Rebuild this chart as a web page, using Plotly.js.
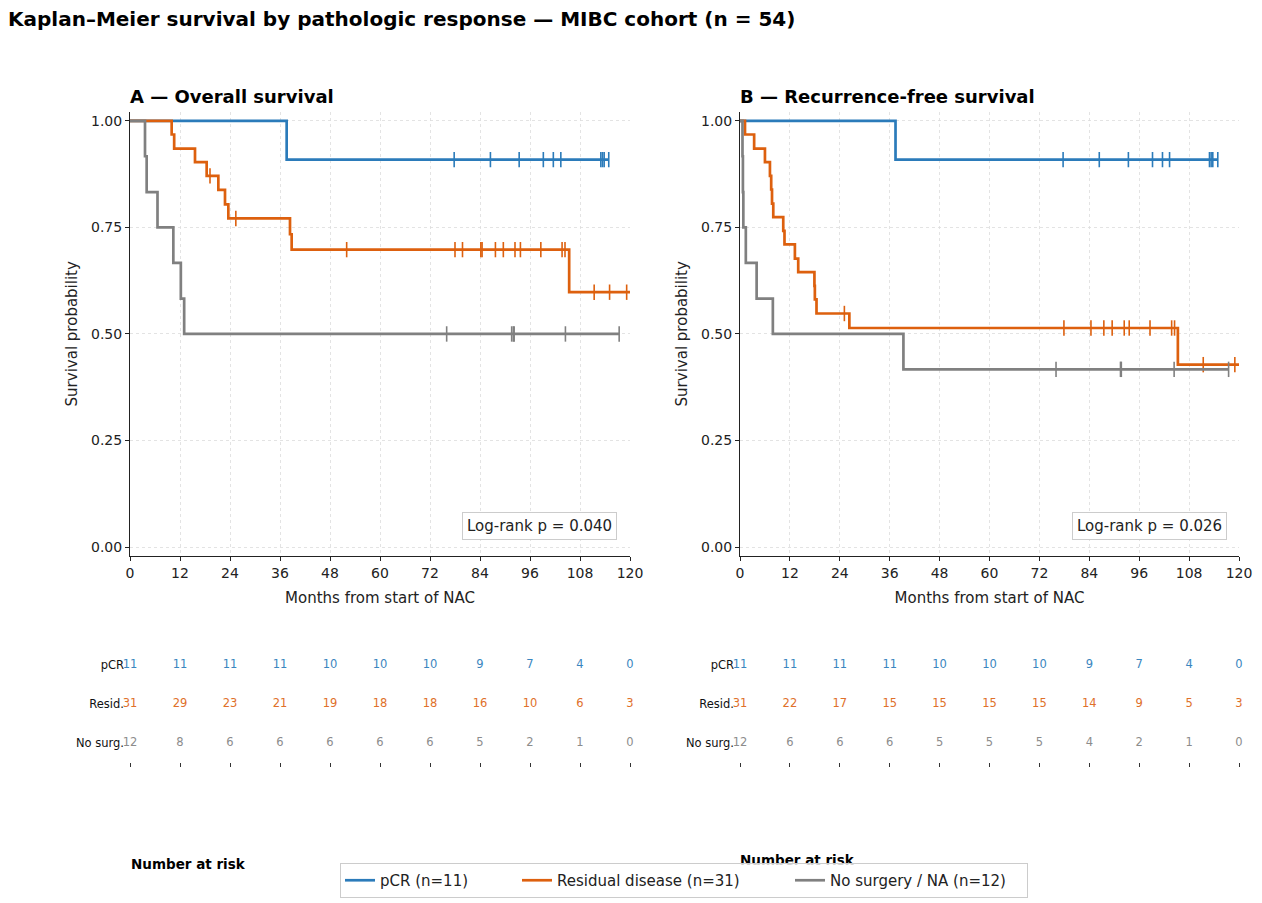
<!DOCTYPE html>
<html>
<head>
<meta charset="utf-8">
<script src="https://cdn.plot.ly/plotly-3.0.1.min.js"></script>
<style>html,body{margin:0;padding:0;background:#fff;}#chart{width:1262px;height:903px;}</style>
</head>
<body>
<div id="chart"></div>
<script>
// ---------- Data ----------
const groupNames = ["pCR (n=11)", "Residual disease (n=31)", "No surgery / NA (n=12)"];
const rowLabels = ["pCR", "Resid.", "No surg."];

// Overall survival
const os_pcr_evt_t = [37.6];
const os_pcr_evt_s = [0.909];
const os_pcr_cens = [77.8, 86.5, 93.4, 99.2, 101.6, 103.4, 113.0, 113.4, 113.8, 114.9];
const os_pcr_end = 114.9;

const os_res_evt_t = [10.0, 10.6, 15.6, 18.4, 21.2, 22.8, 23.6, 38.4, 38.8, 105.4];
const os_res_evt_s = [0.968, 0.935, 0.903, 0.871, 0.838, 0.804, 0.771, 0.734, 0.698, 0.598];
const os_res_cens = [19.2, 25.4, 52.0, 78.0, 79.8, 84.2, 84.5, 87.7, 89.6, 92.4, 93.7, 98.6, 103.7, 104.4, 111.4, 115.1, 119.2];
const os_res_end = 120;

const os_ns_evt_t = [3.6, 4.0, 6.6, 10.4, 12.2, 13.0];
const os_ns_evt_s = [0.917, 0.833, 0.750, 0.667, 0.583, 0.500];
const os_ns_cens = [76.0, 91.6, 92.0, 92.2, 104.5, 117.4];
const os_ns_end = 117.4;

// Recurrence-free survival
const rfs_pcr_evt_t = [37.4];
const rfs_pcr_evt_s = [0.909];
const rfs_pcr_cens = [77.7, 86.4, 93.4, 99.2, 101.6, 103.3, 112.9, 113.3, 113.7, 114.9];
const rfs_pcr_end = 114.9;

const rfs_res_evt_t = [1.2, 3.4, 6.0, 7.2, 7.5, 7.7, 8.0, 10.4, 10.7, 13.2, 14.0, 17.9, 18.0, 18.4, 26.3, 105.3];
const rfs_res_evt_s = [0.968, 0.935, 0.903, 0.871, 0.839, 0.806, 0.774, 0.742, 0.710, 0.677, 0.645, 0.613, 0.581, 0.548, 0.514, 0.428];
const rfs_res_cens = [25.1, 77.9, 84.4, 87.5, 89.5, 92.4, 93.6, 98.6, 103.8, 104.5, 111.4, 119.0];
const rfs_res_end = 120;

const rfs_ns_evt_t = [0.6, 0.7, 0.8, 1.4, 4.0, 7.9, 39.3];
const rfs_ns_evt_s = [0.917, 0.833, 0.750, 0.667, 0.583, 0.500, 0.417];
const rfs_ns_cens = [76.0, 91.5, 91.7, 104.4, 117.5];
const rfs_ns_end = 117.5;

// Number at risk
const risk_months = [0, 12, 24, 36, 48, 60, 72, 84, 96, 108, 120];
const os_risk_pcr = [11, 11, 11, 11, 10, 10, 10, 9, 7, 4, 0];
const os_risk_res = [31, 29, 23, 21, 19, 18, 18, 16, 10, 6, 3];
const os_risk_ns  = [12, 8, 6, 6, 6, 6, 6, 5, 2, 1, 0];
const rfs_risk_pcr = [11, 11, 11, 11, 10, 10, 10, 9, 7, 4, 0];
const rfs_risk_res = [31, 22, 17, 15, 15, 15, 15, 14, 9, 5, 3];
const rfs_risk_ns  = [12, 6, 6, 6, 5, 5, 5, 4, 2, 1, 0];

const pvals = ["Log-rank p = 0.040", "Log-rank p = 0.026"];
const panelTitles = ["A — Overall survival", "B — Recurrence-free survival"];

// ---------- Styles ----------
const colors = ["#2b7bba", "#dd600e", "#808080"];
const riskColors = ["#3a86c0", "#e0702a", "#8c8c8c"];
const legendWidths = [132, 228, 192];
const W = 1262, H = 903;
const px = v => v / W;
const py = v => 1 - v / H;
const FF = "DejaVu Sans";

function stepAt(ts, ss, t) {
  let s = 1;
  for (let i = 0; i < ts.length; i++) { if (ts[i] <= t) s = ss[i]; }
  return s;
}

const traces = [];
function addCurve(evt_t, evt_s, cens, end, gi, xa, ya, showLegend) {
  const x = [0].concat(evt_t, [end]);
  const y = [1].concat(evt_s, [evt_s[evt_s.length - 1]]);
  traces.push({
    type: "scatter", mode: "lines", x: x, y: y, xaxis: xa, yaxis: ya,
    line: {shape: "hv", color: colors[gi], width: 2.7},
    name: groupNames[gi], legendgroup: "g" + gi, showlegend: showLegend,
    legendwidth: legendWidths[gi],
    hoverinfo: "skip"
  });
  traces.push({
    type: "scatter", mode: "markers", x: cens, y: cens.map(t => stepAt(evt_t, evt_s, t)),
    xaxis: xa, yaxis: ya, showlegend: false, legendgroup: "g" + gi,
    marker: {symbol: "line-ns", size: 11, color: colors[gi], line: {color: colors[gi], width: 1.6}},
    hoverinfo: "skip"
  });
}

addCurve(os_pcr_evt_t, os_pcr_evt_s, os_pcr_cens, os_pcr_end, 0, "x", "y", true);
addCurve(os_res_evt_t, os_res_evt_s, os_res_cens, os_res_end, 1, "x", "y", true);
addCurve(os_ns_evt_t, os_ns_evt_s, os_ns_cens, os_ns_end, 2, "x", "y", true);
addCurve(rfs_pcr_evt_t, rfs_pcr_evt_s, rfs_pcr_cens, rfs_pcr_end, 0, "x2", "y2", false);
addCurve(rfs_res_evt_t, rfs_res_evt_s, rfs_res_cens, rfs_res_end, 1, "x2", "y2", false);
addCurve(rfs_ns_evt_t, rfs_ns_evt_s, rfs_ns_cens, rfs_ns_end, 2, "x2", "y2", false);

function addRisk(vals, row, gi, xa, ya) {
  traces.push({
    type: "scatter", mode: "text", x: risk_months, y: risk_months.map(() => row),
    text: vals.map(String), textposition: "middle center",
    textfont: {color: riskColors[gi], size: 11.5, family: FF},
    xaxis: xa, yaxis: ya, showlegend: false, hoverinfo: "skip", cliponaxis: false
  });
}
addRisk(os_risk_pcr, 2, 0, "x3", "y3");
addRisk(os_risk_res, 1, 1, "x3", "y3");
addRisk(os_risk_ns, 0, 2, "x3", "y3");
addRisk(rfs_risk_pcr, 2, 0, "x4", "y4");
addRisk(rfs_risk_res, 1, 1, "x4", "y4");
addRisk(rfs_risk_ns, 0, 2, "x4", "y4");

// ---------- Layout ----------
const domA = [px(130), px(630)];
const domB = [px(740), px(1239)];
const domY = [py(556), py(111.5)];
const domR = [py(762), py(646)];

const tickFont = {family: FF, size: 14, color: "#222"};
function mainX(dom, anchor) {
  return {
    domain: dom, anchor: anchor, range: [0, 120], tickvals: risk_months,
    showline: true, linecolor: "#222", linewidth: 1, ticks: "outside", ticklen: 4, tickcolor: "#222",
    showgrid: true, gridcolor: "#dcdcdc", griddash: "dot", gridwidth: 0.8, zeroline: false,
    tickfont: tickFont, fixedrange: true,
    title: {text: "Months from start of NAC", font: {family: FF, size: 15, color: "#222"}, standoff: 12}
  };
}
function mainY(anchor) {
  return {
    domain: domY, anchor: anchor, range: [-0.021, 1.022], tickvals: [0, 0.25, 0.5, 0.75, 1.0], tickformat: ".2f",
    showline: true, linecolor: "#222", linewidth: 1, ticks: "outside", ticklen: 4, tickcolor: "#222",
    showgrid: true, gridcolor: "#dcdcdc", griddash: "dot", gridwidth: 0.8, zeroline: false,
    tickfont: tickFont, fixedrange: true,
    title: {text: "Survival probability", font: {family: FF, size: 15, color: "#222"}, standoff: 9}
  };
}
function riskX(dom, anchor) {
  return {
    domain: dom, anchor: anchor, range: [0, 120], tickvals: risk_months, showticklabels: false,
    showline: false, showgrid: false, zeroline: false, ticks: "outside", ticklen: 4, tickcolor: "#333", tickwidth: 1,
    fixedrange: true
  };
}
function riskY(anchor) {
  return {
    domain: domR, anchor: anchor, range: [-0.5, 2.5], tickvals: [2, 1, 0], ticktext: rowLabels,
    showline: false, showgrid: false, zeroline: false, ticks: "", ticklabelstandoff: 5,
    tickfont: {family: FF, size: 11.5, color: "#111"}, fixedrange: true
  };
}

const annotations = [
  {xref: "paper", yref: "paper", x: px(128), y: py(96), xanchor: "left", yanchor: "middle",
   text: "<b>" + panelTitles[0] + "</b>", showarrow: false, font: {family: FF, size: 18, color: "#000"}},
  {xref: "paper", yref: "paper", x: px(738), y: py(96), xanchor: "left", yanchor: "middle",
   text: "<b>" + panelTitles[1] + "</b>", showarrow: false, font: {family: FF, size: 18, color: "#000"}},
  {xref: "paper", yref: "paper", x: px(617), y: py(526), xanchor: "right", yanchor: "middle",
   text: pvals[0], showarrow: false, font: {family: FF, size: 15, color: "#222"},
   bgcolor: "#ffffff", bordercolor: "#cccccc", borderwidth: 1, borderpad: 4},
  {xref: "paper", yref: "paper", x: px(1227), y: py(526), xanchor: "right", yanchor: "middle",
   text: pvals[1], showarrow: false, font: {family: FF, size: 15, color: "#222"},
   bgcolor: "#ffffff", bordercolor: "#cccccc", borderwidth: 1, borderpad: 4},
  {xref: "paper", yref: "paper", x: px(129), y: py(864), xanchor: "left", yanchor: "middle",
   text: "<b>Number at risk</b>", showarrow: false, font: {family: FF, size: 13.5, color: "#000"}},
  {xref: "paper", yref: "paper", x: px(738), y: py(860), xanchor: "left", yanchor: "middle",
   text: "<b>Number at risk</b>", showarrow: false, font: {family: FF, size: 13.5, color: "#000"}}
];

const layout = {
  width: W, height: H, margin: {l: 0, r: 0, t: 0, b: 0},
  paper_bgcolor: "#ffffff", plot_bgcolor: "#ffffff",
  font: {family: FF, color: "#222"},
  title: {text: "<b>Kaplan–Meier survival by pathologic response — MIBC cohort (n = 54)</b>",
          x: 8 / W, xref: "container", xanchor: "left", y: 1 - 19 / H, yref: "container", yanchor: "middle",
          font: {family: FF, size: 20, color: "#000"}},
  xaxis: mainX(domA, "y"), yaxis: mainY("x"),
  xaxis2: mainX(domB, "y2"), yaxis2: mainY("x2"),
  xaxis3: riskX(domA, "y3"), yaxis3: riskY("x3"),
  xaxis4: riskX(domB, "y4"), yaxis4: riskY("x4"),
  showlegend: true,
  legend: {orientation: "h", x: px(340), xanchor: "left", y: py(863), yanchor: "top",
           bgcolor: "rgba(255,255,255,0.82)", bordercolor: "#cccccc", borderwidth: 1,
           font: {family: FF, size: 15, color: "#222"}},
  annotations: annotations
};

Plotly.newPlot("chart", traces, layout, {displayModeBar: false, staticPlot: true}).then(function () {
  // keep the legend above the "Number at risk" label, as in the reference
  const lg = document.querySelector("#chart .infolayer .legend");
  if (lg && lg.parentNode) lg.parentNode.appendChild(lg);
});
</script>
</body>
</html>
